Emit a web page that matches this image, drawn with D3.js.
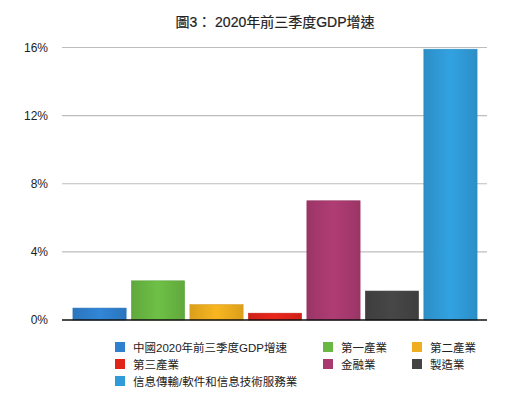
<!DOCTYPE html>
<html>
<head>
<meta charset="utf-8">
<script src="https://cdn.jsdelivr.net/npm/d3@7"></script>
<style>
  body { margin: 0; background: #fff; }
  text { font-family: "Liberation Sans", "Noto Sans CJK TC", sans-serif; fill: #222; }
</style>
</head>
<body>
<script>
var width = 530, height = 395;

var categories = ["中國2020年前三季度GDP增速", "第一產業", "第二產業", "第三產業", "金融業", "製造業", "信息傳輸/軟件和信息技術服務業"];
var values = [0.7, 2.3, 0.9, 0.4, 7.0, 1.7, 15.9];
var colors = ["#2f80cf", "#69b843", "#efae1f", "#e1241a", "#a93a70", "#444444", "#309bd9"];
var yTicks = [0, 4, 8, 12, 16];

var svg = d3.select("body").append("svg")
  .attr("width", width)
  .attr("height", height);

// 渐变，让柱子有一点光泽
var defs = svg.append("defs");
colors.forEach(function(c, i) {
  var g = defs.append("linearGradient").attr("id", "g" + i)
    .attr("x1", "0").attr("x2", "1").attr("y1", "0").attr("y2", "0");
  g.append("stop").attr("offset", "0%").attr("stop-color", d3.color(c).darker(0.25));
  g.append("stop").attr("offset", "50%").attr("stop-color", d3.color(c).brighter(0.12));
  g.append("stop").attr("offset", "100%").attr("stop-color", d3.color(c).darker(0.25));
});

var x = d3.scaleBand()
  .domain(categories)
  .range([70, 480])
  .paddingInner(0.09)
  .paddingOuter(0.05);

var y = d3.scaleLinear()
  .domain([0, 16])
  .range([320, 47.5]);

svg.append("text")
  .attr("x", 275).attr("y", 27)
  .attr("text-anchor", "middle")
  .style("font-size", "14px")
  .style("stroke", "#222")
  .style("stroke-width", "0.2px")
  .text("圖3： 2020年前三季度GDP增速");

// 网格线
svg.selectAll(".grid")
  .data(yTicks.slice(1))
  .enter().append("line")
  .attr("x1", 62).attr("x2", 487)
  .attr("y1", function(d) { return y(d); })
  .attr("y2", function(d) { return y(d); })
  .attr("stroke", "#bdbdbd")
  .attr("stroke-width", 1.2);

svg.selectAll(".ylab")
  .data(yTicks)
  .enter().append("text")
  .attr("x", 48)
  .attr("y", function(d) { return y(d) + 4; })
  .attr("text-anchor", "end")
  .style("font-size", "12px")
  .text(function(d) { return d + "%"; });

svg.selectAll(".bar")
  .data(values)
  .enter().append("rect")
  .attr("x", function(d, i) { return x(categories[i]); })
  .attr("y", function(d) { return y(d); })
  .attr("width", x.bandwidth())
  .attr("height", function(d) { return y(0) - y(d); })
  .attr("fill", function(d, i) { return "url(#g" + i + ")"; })
  .attr("stroke", function(d, i) { return d3.color(colors[i]).darker(0.3); })
  .attr("stroke-width", 0.6);

svg.append("line")
  .attr("x1", 62).attr("x2", 487)
  .attr("y1", y(0)).attr("y2", y(0))
  .attr("stroke", "#111")
  .attr("stroke-width", 1.5);

// 图例
var legendPos = [[115, 347], [323, 347], [412, 347], [115, 364], [323, 364], [412, 364], [115, 381]];
var legend = svg.selectAll(".leg")
  .data(categories)
  .enter().append("g")
  .attr("transform", function(d, i) { return "translate(" + legendPos[i][0] + "," + legendPos[i][1] + ")"; });

legend.append("rect")
  .attr("x", 0).attr("y", -5)
  .attr("width", 10).attr("height", 10)
  .attr("fill", function(d, i) { return colors[i]; });

legend.append("text")
  .attr("x", 18).attr("y", 4.5)
  .style("font-size", "11.5px")
  .text(function(d) { return d; });
</script>
</body>
</html>
